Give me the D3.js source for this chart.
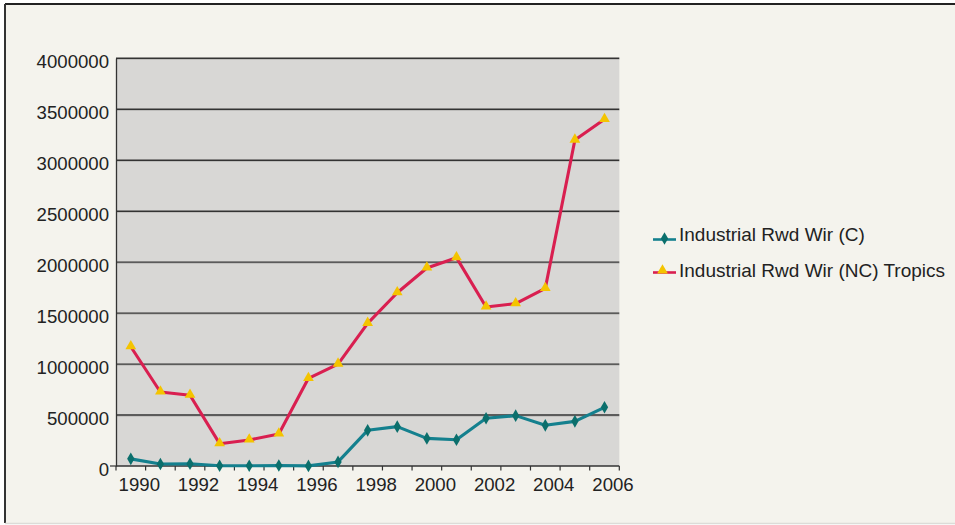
<!DOCTYPE html>
<html>
<head>
<meta charset="utf-8">
<script src="https://cdn.jsdelivr.net/npm/d3@7"></script>
<style>
  html, body { margin: 0; padding: 0; background: #ffffff; }
  svg { display: block; }
  text { font-family: "Liberation Sans", Arial, sans-serif; fill: #222; }
</style>
</head>
<body>
<svg id="chart" width="955" height="525"></svg>
<script>
// Years on the category axis
const years = ["1990","1991","1992","1993","1994","1995","1996","1997","1998",
               "1999","2000","2001","2002","2003","2004","2005","2006"];
// Labels shown under the axis (every other year)
const yearLabels = ["1990","1992","1994","1996","1998","2000","2002","2004","2006"];
// Industrial roundwood, coniferous
const rwdC = [70000, 20000, 22000, 2000, 2000, 5000, 1000, 40000, 350000,
              386000, 271000, 258000, 468000, 494000, 399000, 438000, 576000];
// Industrial roundwood, non-coniferous, tropics
const rwdNC = [1170000, 726000, 694000, 219000, 255000, 314000, 860000, 1000000, 1400000,
               1700000, 1943000, 2044000, 1560000, 1593000, 1743000, 3198000, 3401000];
// Value-axis ticks
const yTicks = [0, 500000, 1000000, 1500000, 2000000, 2500000, 3000000, 3500000, 4000000];

const seriesNames = ["Industrial Rwd Wir (C)", "Industrial Rwd Wir (NC) Tropics"];

const svg = d3.select("#chart");
const W = 955, H = 525;

// page background and frame
svg.append("rect").attr("x", 0).attr("y", 0).attr("width", W).attr("height", H).attr("fill", "#ffffff");
svg.append("rect").attr("x", 5).attr("y", 4).attr("width", W + 10).attr("height", 519)
  .attr("fill", "#f4f3ed");
svg.append("line").attr("x1", 5).attr("x2", W).attr("y1", 4).attr("y2", 4)
  .attr("stroke", "#222").attr("stroke-width", 2.2);
svg.append("line").attr("x1", 5).attr("x2", 5).attr("y1", 4).attr("y2", 523)
  .attr("stroke", "#333").attr("stroke-width", 2);
svg.append("line").attr("x1", 5).attr("x2", W).attr("y1", 523.5).attr("y2", 523.5)
  .attr("stroke", "#dcdcd8").attr("stroke-width", 1.5);

const plot = { left: 116, top: 58.3, right: 619.3, bottom: 466 };

const x = d3.scaleBand().domain(years).range([plot.left, plot.right]).padding(0);
const xc = d => x(d) + x.bandwidth() / 2;
const y = d3.scaleLinear().domain([0, 4000000]).range([plot.bottom, plot.top]);

// plot area
svg.append("rect")
  .attr("x", plot.left).attr("y", plot.top)
  .attr("width", plot.right - plot.left).attr("height", plot.bottom - plot.top)
  .attr("fill", "#d8d7d5");

// horizontal gridlines
const grid = svg.append("g");
grid.selectAll("line.shadow").data(yTicks.slice(1)).join("line")
  .attr("class", "shadow")
  .attr("x1", plot.left).attr("x2", plot.right)
  .attr("y1", d => y(d) + 1.2).attr("y2", d => y(d) + 1.2)
  .attr("stroke", "#bdbcba").attr("stroke-width", 1);
grid.selectAll("line.main").data(yTicks.slice(1)).join("line")
  .attr("class", "main")
  .attr("x1", plot.left).attr("x2", plot.right)
  .attr("y1", d => y(d)).attr("y2", d => y(d))
  .attr("stroke", "#333").attr("stroke-width", 1.4);

// value axis
const yAxis = d3.axisLeft(y).tickValues(yTicks).tickSize(0).tickPadding(7)
  .tickFormat(d3.format("d"));
const gy = svg.append("g").attr("transform", `translate(${plot.left},0)`).call(yAxis);
gy.select(".domain").attr("stroke", "#333").attr("stroke-width", 1.3);
gy.selectAll("text")
  .attr("font-size", "18.6px")
  .attr("font-family", "Liberation Sans, Arial, sans-serif")
  .attr("fill", "#222")
  .attr("dy", null)
  .attr("y", 9.5);
// small tick at zero
svg.append("line").attr("x1", plot.left - 6).attr("x2", plot.left)
  .attr("y1", y(0)).attr("y2", y(0)).attr("stroke", "#333").attr("stroke-width", 1.2);

// category axis: ticks between categories
const boundaries = years.map(d => x(d)).concat([plot.right]);
const gx = svg.append("g");
gx.append("line").attr("x1", plot.left).attr("x2", plot.right)
  .attr("y1", plot.bottom).attr("y2", plot.bottom)
  .attr("stroke", "#333").attr("stroke-width", 1.4);
gx.selectAll("line.tk").data(boundaries).join("line")
  .attr("class", "tk")
  .attr("x1", d => d).attr("x2", d => d)
  .attr("y1", plot.bottom).attr("y2", plot.bottom + 4.5)
  .attr("stroke", "#333").attr("stroke-width", 1.2);
gx.selectAll("text").data(yearLabels).join("text")
  .attr("x", d => xc(d) + 8.5)
  .attr("y", plot.bottom + 24.5)
  .attr("text-anchor", "middle")
  .attr("font-size", "18.6px")
  .text(d => d);

// series lines
const line = d3.line().x((d, i) => xc(years[i])).y(d => y(d));

svg.append("path").datum(rwdC)
  .attr("d", line).attr("fill", "none")
  .attr("stroke", "#14808e").attr("stroke-width", 3.1).attr("stroke-linejoin", "round");
svg.append("path").datum(rwdNC)
  .attr("d", line).attr("fill", "none")
  .attr("stroke", "#d91f50").attr("stroke-width", 3.1).attr("stroke-linejoin", "round");

const diamond = d3.symbol().type(d3.symbolDiamond).size(46);
const triangle = d3.symbol().type(d3.symbolTriangle).size(50);

svg.append("g").selectAll("path").data(rwdC).join("path")
  .attr("transform", (d, i) => `translate(${xc(years[i])},${y(d)})`)
  .attr("d", diamond).attr("fill", "#0b6f6c");
svg.append("g").selectAll("path").data(rwdNC).join("path")
  .attr("transform", (d, i) => `translate(${xc(years[i])},${y(d) - 0.5})`)
  .attr("d", triangle).attr("fill", "#f4c400");

// legend
const legend = svg.append("g");
const legY = [239.5, 272.5];
const legColors = ["#14808e", "#d91f50"];
legend.selectAll("line").data(seriesNames).join("line")
  .attr("x1", 653).attr("x2", 676)
  .attr("y1", (d, i) => legY[i]).attr("y2", (d, i) => legY[i])
  .attr("stroke", (d, i) => legColors[i]).attr("stroke-width", 2.6);
legend.append("path").attr("transform", `translate(664.5,${legY[0] - 1})`)
  .attr("d", diamond).attr("fill", "#0b6f6c");
legend.append("path").attr("transform", `translate(662.5,${legY[1] - 2})`)
  .attr("d", triangle).attr("fill", "#f4c400");
legend.selectAll("text").data(seriesNames).join("text")
  .attr("x", 679).attr("y", (d, i) => [240.5, 277][i])
  .attr("font-size", "19px")
  .text(d => d);
</script>
</body>
</html>
